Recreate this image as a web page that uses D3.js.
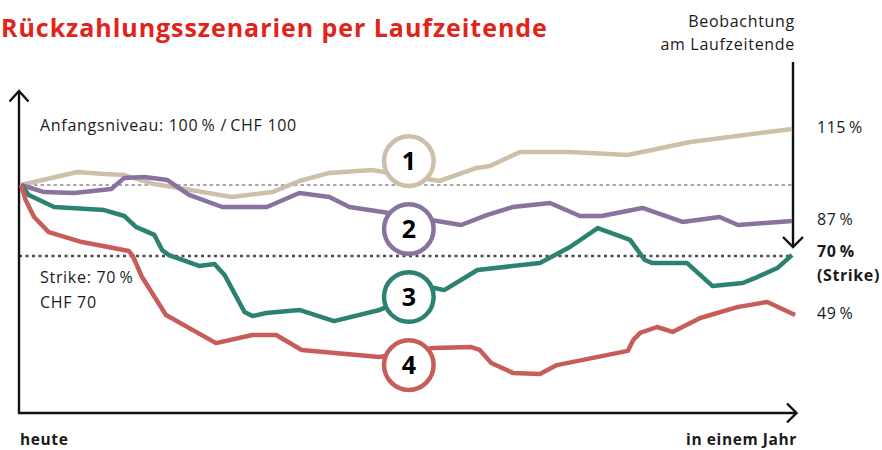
<!DOCTYPE html>
<html>
<head>
<meta charset="utf-8">
<script src="https://cdn.jsdelivr.net/npm/d3@7"></script>
<style>
  body { margin: 0; background: #fff; }
  text { font-family: "Open Sans", sans-serif; fill: #1a1a1a; }
</style>
</head>
<body>
<div id="chart"></div>
<script>
// time in % of the term (0 = heute, 100 = in einem Jahr), values in % of Anfangsniveau
const times1  = [0, 7.3, 10.8, 13.4, 17.3, 20.5, 27.3, 32.6, 36.1, 40.0, 45.5, 54.3, 59.1, 60.8, 64.7, 71.2, 78.7, 86.8, 100];
const values1 = [100, 105.5, 104.6, 104.2, 100.4, 98.7, 94.9, 97.0, 101.7, 105.1, 106.3, 101.7, 107.2, 108.0, 113.9, 113.9, 112.7, 118.2, 123.7];

const times2  = [0, 3.0, 6.9, 11.7, 13.4, 16.0, 19.0, 21.8, 26.1, 31.9, 36.1, 40.0, 42.6, 46.9, 57.1, 60.4, 63.8, 68.6, 72.5, 75.3, 80.6, 85.8, 90.6, 93.0, 100];
const values2 = [100, 97.0, 96.6, 98.3, 103.0, 103.4, 102.1, 95.8, 90.7, 90.7, 96.6, 94.9, 90.7, 88.6, 83.1, 87.3, 90.7, 92.4, 86.9, 86.9, 90.3, 84.4, 86.5, 83.1, 84.8];

const times3  = [0, 1.0, 4.3, 10.8, 13.4, 14.9, 17.3, 18.3, 19.2, 23.1, 25.1, 26.4, 29.0, 30.0, 31.8, 36.1, 40.6, 46.5, 53.6, 54.9, 59.2, 67.3, 71.2, 74.8, 79.0, 80.9, 81.9, 86.4, 89.7, 93.6, 95.5, 98.1, 100];
const values3 = [100, 95.8, 90.7, 89.4, 86.9, 82.3, 78.9, 72.5, 70.4, 65.8, 66.6, 62.0, 46.3, 44.6, 45.9, 47.2, 42.5, 47.2, 56.5, 55.6, 64.1, 67.0, 73.8, 81.8, 76.8, 68.3, 67.0, 67.0, 57.3, 58.6, 61.1, 64.9, 70.4];

const times4  = [0, 0.6, 1.7, 3.6, 7.9, 14.0, 14.5, 15.7, 18.8, 25.3, 30.0, 33.1, 36.4, 46.5, 53.4, 58.4, 59.5, 61.0, 63.8, 67.3, 69.5, 78.7, 79.4, 80.3, 82.5, 84.5, 88.1, 92.9, 96.8, 100.4];
const values4 = [100, 93.7, 86.5, 80.1, 75.9, 72.1, 70.0, 61.1, 45.1, 33.2, 36.6, 36.6, 30.3, 27.3, 31.1, 31.5, 30.3, 24.8, 20.6, 20.1, 23.9, 29.9, 34.5, 37.5, 40.0, 37.9, 43.8, 48.4, 50.6, 45.1];

const scenarioLabels = ["1", "2", "3", "4"];
const badgeLevels = [110.1, 81.4, 52.7, 23.9];
const endLabels = ["115\u2009%", "87\u2009%", "", "49\u2009%"];
const colors = ["#cdbfa9", "#8a72a0", "#2b8271", "#c75d59"];

const startLevel = 100;
const strikeLevel = 70;

const width = 882, height = 450;

const svg = d3.select("#chart")
  .append("svg")
  .attr("width", width)
  .attr("height", height);

const x = d3.scaleLinear().domain([0, 100]).range([21, 792]);
const y = d3.scaleLinear().domain([strikeLevel, startLevel]).range([256, 185]);

const series = [
  d3.zip(times1, values1),
  d3.zip(times2, values2),
  d3.zip(times3, values3),
  d3.zip(times4, values4)
];

// title
svg.append("text")
  .attr("x", 1)
  .attr("y", 37)
  .style("font-size", "25px")
  .style("font-weight", "700")
  .style("letter-spacing", "0.95px")
  .style("fill", "#e2231a")
  .text("Rückzahlungsszenarien per Laufzeitende");

// reference lines
svg.append("line")
  .attr("x1", x(0)).attr("x2", x(100))
  .attr("y1", y(startLevel)).attr("y2", y(startLevel))
  .attr("stroke", "#8c8c8c")
  .attr("stroke-width", 1.3)
  .attr("stroke-dasharray", "3.5,3");

svg.append("line")
  .attr("x1", 19).attr("x2", x(100))
  .attr("y1", y(strikeLevel)).attr("y2", y(strikeLevel))
  .attr("stroke", "#4a4a4a")
  .attr("stroke-width", 2.6)
  .attr("stroke-dasharray", "3,3.5");

// axes (arrows, no ticks)
const axis = svg.append("g")
  .attr("fill", "none")
  .attr("stroke", "#111")
  .attr("stroke-width", 2.4);

axis.append("path").attr("d", "M19,91 V413 H796");
axis.append("path").attr("d", "M9.5,101.5 L19,91 L28.5,101.5");
axis.append("path").attr("d", "M787,403.5 L796.5,413 L787,422.5");

// observation arrow
axis.append("path").attr("d", `M${x(100) + 1},62 V${y(strikeLevel) - 9}`);
axis.append("path").attr("d", `M${x(100) - 9},${y(strikeLevel) - 19} L${x(100) + 1},${y(strikeLevel) - 9} L${x(100) + 11},${y(strikeLevel) - 19}`);

// scenario lines
const line = d3.line()
  .x(d => x(d[0]))
  .y(d => y(d[1]));

svg.selectAll("path.scenario")
  .data(series)
  .enter()
  .append("path")
  .attr("class", "scenario")
  .attr("fill", "none")
  .attr("stroke", (d, i) => colors[i])
  .attr("stroke-width", 4.5)
  .attr("stroke-linejoin", "round")
  .attr("d", line);

// numbered badges
const badges = svg.selectAll("g.badge")
  .data(scenarioLabels)
  .enter()
  .append("g")
  .attr("class", "badge")
  .attr("transform", (d, i) => `translate(${x(50.3)},${y(badgeLevels[i])})`);

badges.append("circle")
  .attr("r", 24.8)
  .attr("fill", "#fff")
  .attr("stroke", (d, i) => colors[i])
  .attr("stroke-width", 4.5);

badges.append("text")
  .attr("text-anchor", "middle")
  .attr("dy", "0.36em")
  .style("font-size", "25px")
  .style("font-weight", "700")
  .style("fill", "#000")
  .text(d => d);

// end values
svg.selectAll("text.endlabel")
  .data(series)
  .enter()
  .append("text")
  .attr("class", "endlabel")
  .attr("x", 817)
  .attr("y", d => y(d[d.length - 1][1]) + 4)
  .style("font-size", "16px")
  .style("letter-spacing", "0.5px")
  .text((d, i) => endLabels[i]);

const strikeLabel = svg.append("text")
  .attr("x", 817)
  .attr("y", y(strikeLevel) + 1)
  .style("font-size", "16px")
  .style("font-weight", "700")
  .style("letter-spacing", "0.6px");
strikeLabel.append("tspan").text("70\u2009%");
strikeLabel.append("tspan").attr("x", 817).attr("dy", 24).text("(Strike)");

// annotations
const note = (tx, ty, str, opts = {}) => svg.append("text")
  .attr("x", tx)
  .attr("y", ty)
  .attr("text-anchor", opts.anchor || "start")
  .style("font-size", opts.size || "16px")
  .style("font-weight", opts.weight || "400")
  .style("letter-spacing", opts.spacing || "0.7px")
  .text(str);

note(40, 131, "Anfangsniveau: 100\u2009% /\u2009CHF 100");
note(40, 283, "Strike: 70\u2009%");
note(40, 308, "CHF 70");
note(795, 27, "Beobachtung", { anchor: "end" });
note(795, 50, "am Laufzeitende", { anchor: "end" });
note(20, 445, "heute", { size: "15.5px", weight: "700", spacing: "0.6px" });
note(797, 445, "in einem Jahr", { anchor: "end", size: "15.5px", weight: "700", spacing: "0.6px" });
</script>
</body>
</html>
